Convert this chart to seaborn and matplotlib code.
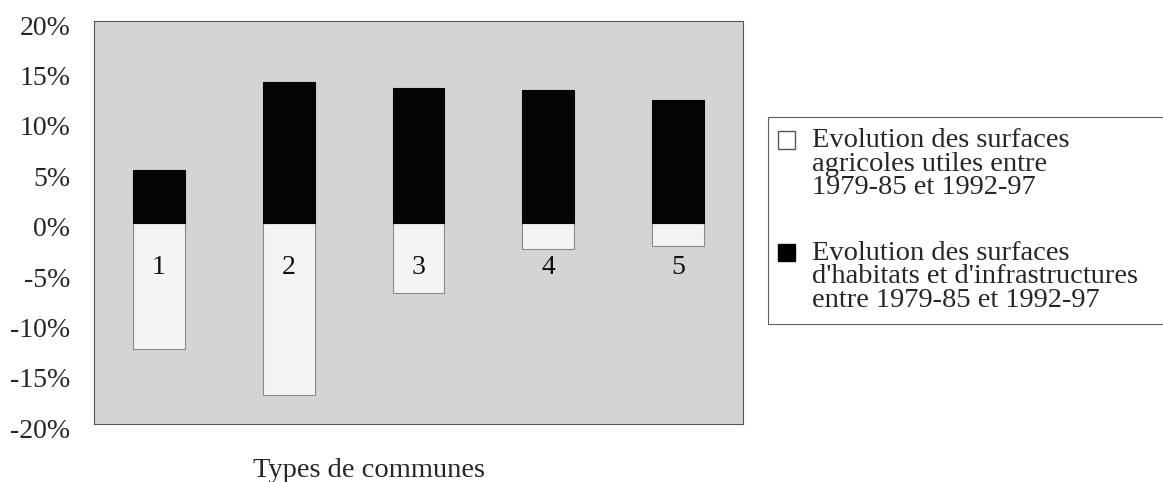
import matplotlib
matplotlib.use("Agg")
import matplotlib.pyplot as plt
from matplotlib.patches import Patch, Rectangle
from matplotlib.legend_handler import HandlerPatch
from matplotlib.ticker import FuncFormatter
from matplotlib.transforms import ScaledTranslation
import seaborn as sns
import pandas as pd

# données (%)
types = ["1", "2", "3", "4", "5"]
agricole = [-12.6, -17.1, -7.0, -2.6, -2.3]
habitat = [5.2, 13.9, 13.4, 13.2, 12.2]
yticks = [-20, -15, -10, -5, 0, 5, 10, 15, 20]

label_agri = "Evolution des surfaces\nagricoles utiles entre\n1979-85 et 1992-97"
label_hab = "Evolution des surfaces\nd'habitats et d'infrastructures\nentre 1979-85 et 1992-97"

df = pd.DataFrame({"type": types, "agricole": agricole, "habitat": habitat})

sns.set_style("white")
plt.rcParams["font.family"] = ["Liberation Serif", "DejaVu Serif"]

fig = plt.figure(figsize=(11.63, 4.82), dpi=100)
ax = fig.add_axes([0.0808, 0.1203, 0.5581, 0.8361])
ax.set_facecolor("#d4d4d4")

sns.barplot(data=df, x="type", y="agricole", color="#f4f4f4", width=0.4,
            edgecolor="#8a8a8a", linewidth=0.8, saturation=1, ax=ax)
sns.barplot(data=df, x="type", y="habitat", color="#050505", width=0.4,
            edgecolor="#050505", linewidth=0.8, saturation=1, ax=ax)

ax.set_ylim(-20, 20)
ax.set_xlim(-0.5, 4.5)
ax.set_yticks(yticks)
ax.yaxis.set_major_formatter(FuncFormatter(lambda v, p: f"{v:.0f}%"))
ax.tick_params(axis="y", length=0, pad=17, labelsize=20)
# les étiquettes sont un peu plus bas que les graduations
shift = ScaledTranslation(0, -3 / 72, fig.dpi_scale_trans)
for tk in ax.yaxis.get_major_ticks():
    tk.label1.set_transform(tk.label1.get_transform() + shift)
ax.set_xticks([])
ax.set_ylabel("")

# numéros des types dans les barres
for i, t in enumerate(types):
    ax.text(i, -4.5, t, ha="center", va="center", fontsize=20, color="#111111")

for s in ax.spines.values():
    s.set_color("#555555")
    s.set_linewidth(0.8)

ax.set_xlabel("Types de communes", fontsize=20.5)
ax.xaxis.set_label_coords((369 - 94) / 649, -0.085)


# carré de légende aligné sur la première ligne du texte
def top_square(legend, orig_handle, xdescent, ydescent, width, height, fontsize):
    return Rectangle((-xdescent, -ydescent + 0.84 * fontsize), width, height)


handles = [Patch(facecolor="white", edgecolor="#555555", label=label_agri),
           Patch(facecolor="black", edgecolor="black", label=label_hab)]
leg = fig.legend(handles=handles, loc="upper left",
                 bbox_to_anchor=(0.660, 0.757, 0.345, 0.0), mode="expand",
                 fontsize=20.5, frameon=True, fancybox=False, handlelength=0.58,
                 handleheight=0.58, handletextpad=0.6, labelspacing=1.42,
                 borderpad=0.38, borderaxespad=0,
                 handler_map={Patch: HandlerPatch(patch_func=top_square)})
leg.get_frame().set_edgecolor("#333333")
leg.get_frame().set_linewidth(0.8)
for txt in leg.get_texts():
    txt.set_linespacing(0.93)

fig.savefig("out.png", dpi=100, facecolor="white")
